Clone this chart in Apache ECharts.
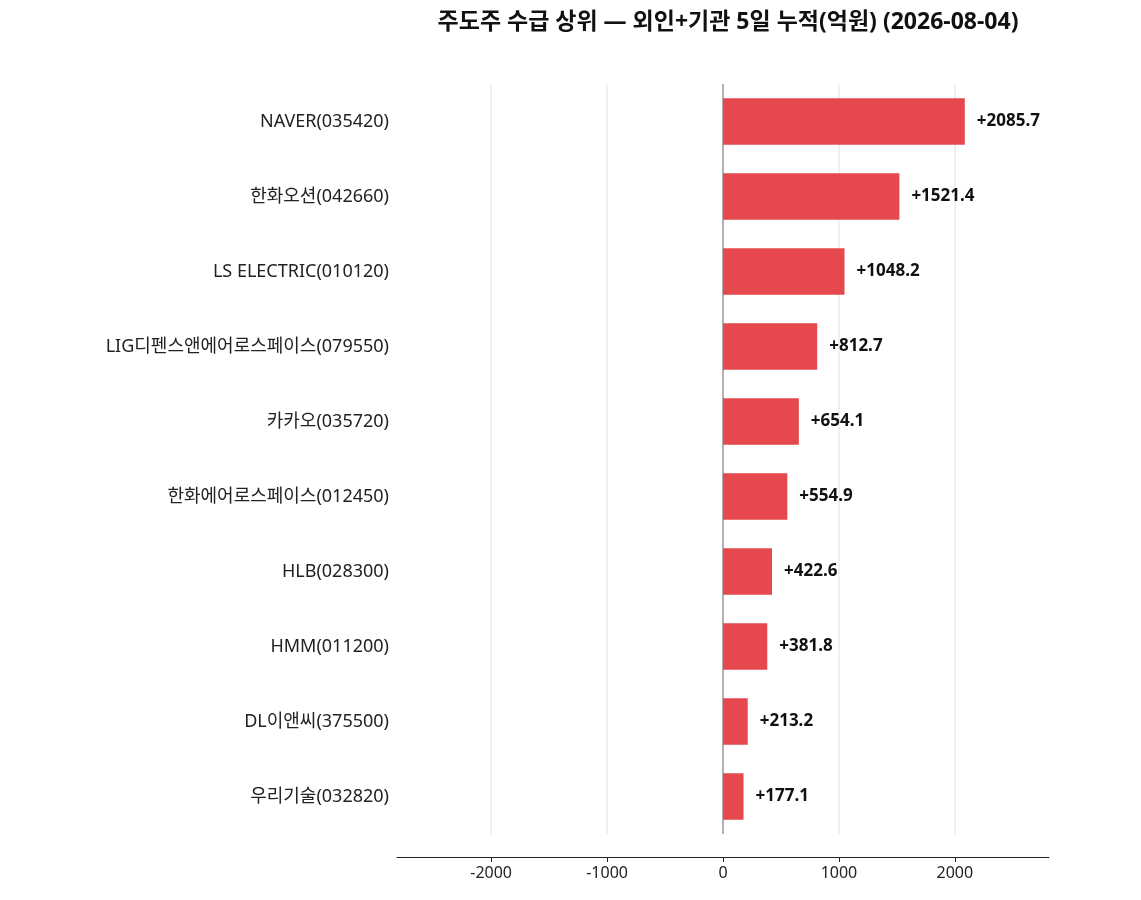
<!DOCTYPE html>
<html><head><meta charset="utf-8">
<script src="https://cdn.jsdelivr.net/npm/echarts@6/dist/echarts.min.js"></script>
<style>html,body{margin:0;padding:0;background:#fff}#c{width:1141px;height:900px}</style>
</head><body><div id="c"></div>
<script>
const categories = ["NAVER(035420)","한화오션(042660)","LS ELECTRIC(010120)","LIG디펜스앤에어로스페이스(079550)","카카오(035720)","한화에어로스페이스(012450)","HLB(028300)","HMM(011200)","DL이앤씨(375500)","우리기술(032820)"];
const values = [2085.7,1521.4,1048.2,812.7,654.1,554.9,422.6,381.8,213.2,177.1];
const tickValues = [-2000,-1000,0,1000,2000];
const font = '"Noto Sans","Noto Sans CJK KR",sans-serif';
const chart = echarts.init(document.getElementById('c'));
chart.setOption({
  animation:false,
  textStyle:{fontFamily:font},
  title:{text:'주도주 수급 상위 — 외인+기관 5일 누적(억원) (2026-08-04)',left:723,top:6,textAlign:'center',
    textStyle:{fontFamily:font,fontSize:23,fontWeight:'bold',color:'#111'}},
  grid:{left:397,right:92,top:84,height:750},
  xAxis:{type:'value',min:-2812,max:2812,offset:23,
    axisLine:{show:true,lineStyle:{color:'#222',width:1.2}},
    axisTick:{show:true,customValues:tickValues,lineStyle:{color:'#222'}},
    axisLabel:{customValues:tickValues,fontSize:16,color:'#222',fontFamily:font,formatter:v=>String(v)},
    splitLine:{show:false}},
  yAxis:{type:'category',data:categories,inverse:true,
    axisLine:{show:false},axisTick:{show:false},
    axisLabel:{fontSize:18,color:'#222',fontFamily:font,margin:8}},
  series:[
   {type:'bar',data:[],z:1,silent:true,
    markLine:{silent:true,symbol:'none',label:{show:false},z:1,
      data:[-2000,-1000,1000,2000].map(v=>({xAxis:v,lineStyle:{color:'#ebebeb',width:1.5,type:'solid'}}))
        .concat([{xAxis:0,lineStyle:{color:'#999',width:1.5,type:'solid'}}])}},
   {type:'bar',data:values,barWidth:'62%',barGap:'-100%',z:3,itemStyle:{color:'#e5484d'},
    label:{show:true,position:'right',distance:12,fontSize:17,fontWeight:'bold',color:'#111',fontFamily:font,
      formatter:p=>(p.value>=0?'+':'')+p.value.toFixed(1)}}
  ]
});
</script></body></html>
